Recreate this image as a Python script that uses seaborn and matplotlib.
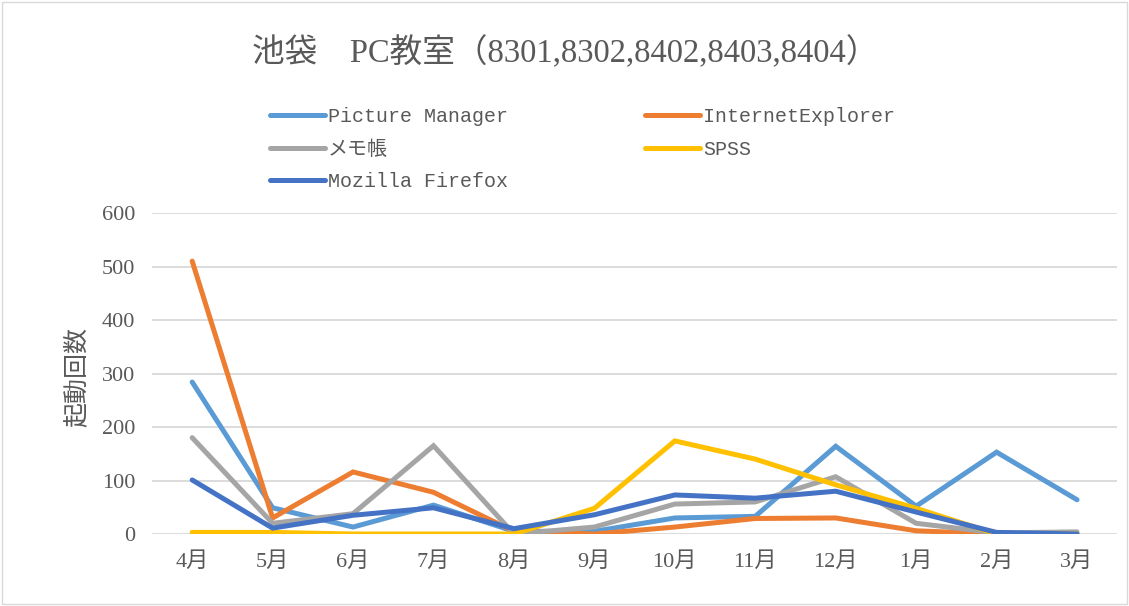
import pandas as pd
import matplotlib.pyplot as plt
import seaborn as sns
from matplotlib.patches import Rectangle

# --- data ---
months = ['4月', '5月', '6月', '7月', '8月', '9月', '10月', '11月', '12月', '1月', '2月', '3月']
picture_manager = [284, 49, 13, 54, 5, 5, 30, 33, 164, 52, 153, 64]
internet_explorer = [510, 30, 116, 78, 5, 0, 13, 29, 30, 6, 0, 0]
memo = [180, 20, 38, 165, 0, 13, 56, 60, 107, 20, 2, 4]
spss = [3, 3, 0, 0, 0, 48, 174, 140, 92, 48, 0, 0]
firefox = [101, 11, 35, 49, 10, 36, 73, 67, 80, 41, 3, 0]

apps = ['Picture Manager', 'InternetExplorer', 'メモ帳', 'SPSS', 'Mozilla Firefox']
colors = ['#5B9BD5', '#ED7D31', '#A5A5A5', '#FFC000', '#4472C4']

series = [picture_manager, internet_explorer, memo, spss, firefox]
df = pd.concat([pd.DataFrame({'month': months, 'count': vals, 'app': name})
                for name, vals in zip(apps, series)], ignore_index=True)

sns.set_theme(style='white')
serif = ['Liberation Serif', 'Noto Sans CJK JP']
mono = ['Liberation Mono', 'Noto Sans CJK JP']
plt.rcParams['font.family'] = serif
text_col = '#595959'

fig = plt.figure(figsize=(11.29, 6.06), dpi=100)
ax = fig.add_axes([0.1346, 0.1188, 0.855, 0.5297])

sns.lineplot(data=df, x='month', y='count', hue='app', hue_order=apps,
             palette=dict(zip(apps, colors)), sort=False, linewidth=3.6,
             ax=ax, legend=True)
for line in ax.lines:
    line.set_solid_capstyle('round')
    line.set_solid_joinstyle('miter')

ax.set_xlim(-0.5, 11.5)
ax.set_ylim(0, 600)
ax.set_yticks(range(0, 601, 100))
ax.yaxis.grid(True, color='#D9D9D9', linewidth=1.3)
ax.set_axisbelow(True)
for s in ax.spines.values():
    s.set_visible(False)
ax.tick_params(axis='both', length=0, labelsize=16, colors=text_col)
ax.tick_params(axis='x', pad=13)
ax.tick_params(axis='y', pad=12)
ax.set_xlabel('')
ax.set_ylabel('起動回数', fontsize=18, color=text_col)
ax.yaxis.set_label_coords(-0.066, 0.49)

# legend in row order like the reference (matplotlib fills columns first)
handles, labels = ax.get_legend_handles_labels()
ax.get_legend().remove()
hmap = dict(zip(labels, handles))
order = ['Picture Manager', 'メモ帳', 'Mozilla Firefox', 'InternetExplorer', 'SPSS']
fig.legend([hmap[k] for k in order], order, ncol=2, frameon=False,
           loc='upper left', bbox_to_anchor=(0.232, 0.836), borderaxespad=0,
           handlelength=2.75, handletextpad=0.15, columnspacing=6.85,
           labelspacing=0.66, prop={'family': mono, 'size': 14.4},
           labelcolor=text_col)

fig.text(0.501, 0.913, '池袋　PC教室（8301,8302,8402,8403,8404）',
         ha='center', va='center', fontsize=23.5, color=text_col)

fig.patches.append(Rectangle((0.002, 0.003), 0.996, 0.994, transform=fig.transFigure,
                             fill=False, edgecolor='#D9D9D9', linewidth=1))

fig.savefig('out.png', dpi=100)
